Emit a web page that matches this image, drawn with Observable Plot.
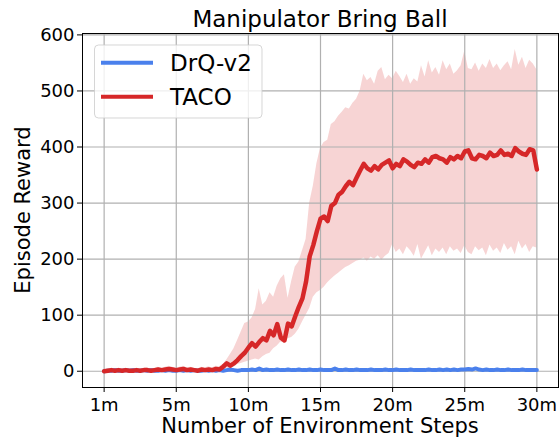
<!DOCTYPE html>
<html>
<head>
<meta charset="utf-8">
<script src="https://cdn.jsdelivr.net/npm/d3@7"></script>
<script src="https://cdn.jsdelivr.net/npm/@observablehq/plot@0.6"></script>
<style>
  html, body { margin: 0; padding: 0; background: #fff; }
  #chart { width: 560px; height: 439px; }
</style>
</head>
<body>
<div id="chart"></div>
<script>
// ---- data (x in millions of environment steps, plotted on the tick grid) ----
const steps = [
  0,0.25,0.5,0.75,1,1.25,1.5,1.75,
  2,2.25,2.5,2.75,3,3.25,3.5,3.75,
  4,4.25,4.5,4.75,5,5.25,5.5,5.75,
  6,6.25,6.5,6.75,7,7.25,7.5,7.75,
  8,8.25,8.5,8.75,9,9.25,9.5,9.75,
  10,10.25,10.5,10.75,11,11.25,11.5,11.75,
  12,12.25,12.5,12.75,13,13.25,13.5,13.75,
  14,14.25,14.5,14.75,15,15.25,15.5,15.75,
  16,16.25,16.5,16.75,17,17.25,17.5,17.75,
  18,18.25,18.5,18.75,19,19.25,19.5,19.75,
  20,20.25,20.5,20.75,21,21.25,21.5,21.75,
  22,22.25,22.5,22.75,23,23.25,23.5,23.75,
  24,24.25,24.5,24.75,25,25.25,25.5,25.75,
  26,26.25,26.5,26.75,27,27.25,27.5,27.75,
  28,28.25,28.5,28.75,29,29.25,29.5,29.75,
  30
];
const tacoMean = [
  0,1,2,1,2,1,2,1,
  1,2,1,2,2,1,2,3,
  2,3,4,3,2,3,4,2,
  3,2,1,3,2,3,2,4,
  3,8,14,10,14,20,27,33,
  42,50,44,52,59,55,72,64,
  84,60,55,85,80,98,115,130,
  160,205,225,250,272,276,268,295,
  300,315,320,330,338,332,345,358,
  370,362,358,366,360,368,372,376,
  362,370,366,378,374,368,364,372,
  370,378,372,382,384,380,378,372,
  382,378,384,380,392,394,380,378,
  386,384,380,390,384,386,394,386,
  388,384,398,392,388,386,396,394,
  360
];
const tacoUpper = [
  2,4,5,4,5,3,5,4,
  4,5,3,5,6,4,5,7,
  5,7,9,7,5,7,9,6,
  7,5,4,7,6,8,6,9,
  8,12,20,30,40,55,70,85,
  88,95,110,147,118,125,140,132,
  152,165,172,130,160,186,195,215,
  235,300,330,370,398,408,412,440,
  445,455,462,470,468,478,485,500,
  530,518,524,512,535,542,520,528,
  522,535,526,515,530,512,522,516,
  545,525,554,532,542,528,554,538,
  548,530,536,545,571,540,538,550,
  535,548,540,556,540,548,536,545,
  552,538,574,546,560,540,555,548,
  538
];
const tacoLower = [
  -1,0,0,-1,0,0,0,-1,
  0,0,-1,0,0,-1,0,0,
  0,0,1,0,0,0,1,0,
  0,0,-1,0,0,0,0,1,
  1,3,6,4,8,12,14,16,
  18,20,22,20,26,30,32,40,
  45,52,50,58,60,66,75,88,
  100,112,132,140,144,150,158,164,
  170,175,180,185,188,192,196,198,
  202,196,204,200,206,198,205,210,
  226,212,218,208,222,215,205,226,
  200,212,224,206,218,212,220,208,
  222,214,218,210,224,212,208,222,
  215,220,206,225,214,220,210,228,
  216,222,208,232,218,226,212,222,
  220
];
const drqMean = [
  0,1,1,2,1,1,2,1,
  2,1,1,2,1,2,1,1,
  2,1,2,1,1,2,1,2,
  1,2,1,1,2,1,2,1,
  2,1,2,3,2,1,2,2,
  2,3,2,5,2,3,2,2,
  3,2,2,3,2,2,3,2,
  2,3,2,2,3,2,2,2,
  5,2,2,3,2,2,3,2,
  2,2,3,2,2,2,3,2,
  2,3,2,2,2,3,2,2,
  2,2,3,2,2,3,2,3,
  2,3,2,3,3,4,3,5,
  3,2,3,2,2,3,2,2,
  3,2,2,2,3,2,2,2,
  2
];
const xTicks = [0, 5, 10, 15, 20, 25, 30];
const xTickLabels = ["1m", "5m", "10m", "15m", "20m", "25m", "30m"];
const yTicks = [0, 100, 200, 300, 400, 500, 600];
const seriesNames = ["DrQ-v2", "TACO"];
const seriesColors = ["#4a80ec", "#d62728"];
const titleText = "Manipulator Bring Ball";
const xLabel = "Number of Environment Steps";
const yLabel = "Episode Reward";

// ---- build tables ----
const taco = steps.map((s, i) => ({step: s, mean: tacoMean[i], lower: tacoLower[i], upper: tacoUpper[i]}));
const drq = steps.map((s, i) => ({step: s, mean: drqMean[i]}));

const FONT = "DejaVu Sans, Liberation Sans, sans-serif";

const svg = Plot.plot({
  width: 560,
  height: 439,
  marginLeft: 82,
  marginRight: 2,
  marginTop: 33,
  marginBottom: 52,
  style: {fontFamily: FONT, fontSize: "18px", color: "black", background: "white", overflow: "visible"},
  x: {domain: [-1.5, 31.5]},
  y: {domain: [-29, 602.5]},
  marks: [
    Plot.areaY(taco, {x: "step", y1: "lower", y2: "upper", fill: seriesColors[1], fillOpacity: 0.2}),
    Plot.gridX(xTicks, {stroke: "#b0b0b0", strokeOpacity: 1, strokeWidth: 1.2}),
    Plot.gridY(yTicks, {stroke: "#b0b0b0", strokeOpacity: 1, strokeWidth: 1.2}),
    Plot.lineY(drq, {x: "step", y: "mean", stroke: seriesColors[0], strokeWidth: 4}),
    Plot.lineY(taco, {x: "step", y: "mean", stroke: seriesColors[1], strokeWidth: 4.5}),
    Plot.axisX(xTicks, {tickFormat: d => xTickLabels[xTicks.indexOf(d)], tickSize: 5, tickPadding: 6, label: null, fontSize: 18}),
    Plot.axisY(yTicks, {tickSize: 5, tickPadding: 3, label: null, fontSize: 18}),
    Plot.frame({stroke: "black", strokeWidth: 1})
  ]
});

const s = d3.select(svg);
// title
s.append("text").attr("x", 320).attr("y", 26.5).attr("text-anchor", "middle")
  .attr("font-family", FONT).attr("font-size", 23).attr("fill", "black").text(titleText);
// x label
s.append("text").attr("x", 320).attr("y", 433).attr("text-anchor", "middle")
  .attr("font-family", FONT).attr("font-size", 21).attr("fill", "black").text(xLabel);
// y label
s.append("text").attr("transform", "translate(30,210) rotate(-90)").attr("text-anchor", "middle")
  .attr("font-family", FONT).attr("font-size", 21).attr("fill", "black").text(yLabel);

// legend
const lg = s.append("g");
lg.append("rect").attr("x", 94.5).attr("y", 45).attr("width", 167.5).attr("height", 73)
  .attr("rx", 4).attr("fill", "white").attr("fill-opacity", 0.8)
  .attr("stroke", "#cccccc").attr("stroke-opacity", 0.8).attr("stroke-width", 1);
seriesNames.forEach((name, i) => {
  const y = 62.7 + i * 34;
  lg.append("line").attr("x1", 101).attr("x2", 153).attr("y1", y).attr("y2", y)
    .attr("stroke", seriesColors[i]).attr("stroke-width", 4);
  lg.append("text").attr("x", 170).attr("y", y + 8.3).attr("text-anchor", "start")
    .attr("font-family", FONT).attr("font-size", 23).attr("fill", "black").text(name);
});

document.getElementById("chart").appendChild(svg);
</script>
</body>
</html>
